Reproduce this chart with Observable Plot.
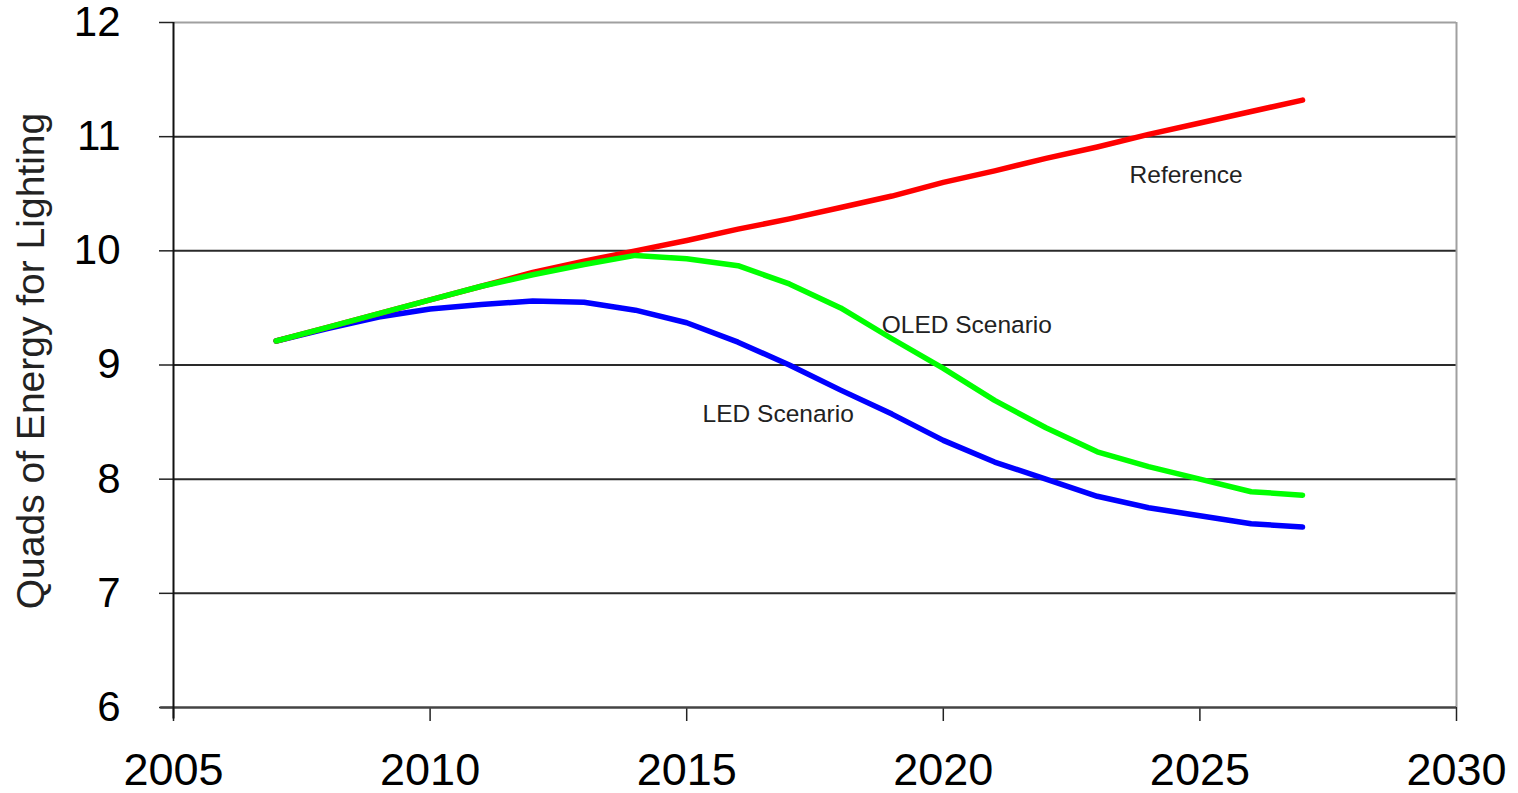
<!DOCTYPE html>
<html>
<head>
<meta charset="utf-8">
<script src="https://cdn.jsdelivr.net/npm/d3@7"></script>
<script src="https://cdn.jsdelivr.net/npm/@observablehq/plot@0.6"></script>
<style>
  html, body { margin: 0; padding: 0; background: #fff; }
  svg { display: block; overflow: visible; }
</style>
</head>
<body>
<div id="chart"></div>
<script>
const years = [2007, 2008, 2009, 2010, 2011, 2012, 2013, 2014, 2015, 2016, 2017, 2018, 2019, 2020, 2021, 2022, 2023, 2024, 2025, 2026, 2027];
const reference = [9.21, 9.33, 9.45, 9.57, 9.69, 9.81, 9.91, 10.00, 10.09, 10.19, 10.28, 10.38, 10.48, 10.60, 10.70, 10.81, 10.91, 11.02, 11.12, 11.22, 11.32];
const oled = [9.21, 9.33, 9.45, 9.57, 9.69, 9.79, 9.88, 9.96, 9.93, 9.87, 9.71, 9.50, 9.23, 8.97, 8.69, 8.45, 8.24, 8.11, 8.00, 7.89, 7.86];
const led = [9.21, 9.32, 9.42, 9.49, 9.53, 9.56, 9.55, 9.48, 9.37, 9.20, 9.00, 8.78, 8.57, 8.34, 8.15, 8.00, 7.85, 7.75, 7.68, 7.61, 7.58];

const xTicks = [2005, 2010, 2015, 2020, 2025, 2030];
const yTicks = [6, 7, 8, 9, 10, 11, 12];
const yTitle = "Quads of Energy for Lighting";

const seriesNames = ["LED Scenario", "Reference", "OLED Scenario"];
const seriesColors = ["#0000ff", "#ff0000", "#00ff00"];
const seriesValues = [led, reference, oled];

// label anchors (year, value) for in-chart annotations
const labelNames = ["Reference", "OLED Scenario", "LED Scenario"];
const labelX = [2023.63, 2018.8, 2015.31];
const labelY = [10.59, 9.28, 8.50];

const rows = [];
seriesNames.forEach((name, i) => {
  years.forEach((yr, j) => rows.push({series: name, year: yr, value: seriesValues[i][j]}));
});
const labels = labelNames.map((t, i) => ({text: t, x: labelX[i], y: labelY[i]}));

const chart = Plot.plot({
  width: 1518,
  height: 793,
  marginLeft: 173,
  marginRight: 62,
  marginTop: 22,
  marginBottom: 86,
  style: {fontFamily: "'Liberation Sans', Arial, sans-serif", background: "#fff", color: "#000", overflow: "visible"},
  x: {domain: [2005, 2030]},
  y: {domain: [6, 12]},
  color: {domain: seriesNames, range: seriesColors},
  marks: [
    Plot.ruleY(yTicks.filter(d => d > 6 && d < 12), {stroke: "#2a2a2a", strokeWidth: 2}),
    Plot.ruleY([12], {stroke: "#a0a0a0", strokeWidth: 2}),
    Plot.ruleX([2030], {stroke: "#a0a0a0", strokeWidth: 2}),
    Plot.axisY({ticks: yTicks, tickSize: 14, tickPadding: 39, fontSize: 42, tickFormat: d => String(d), label: null, stroke: "#222", strokeWidth: 1.5}),
    Plot.axisX({ticks: xTicks, tickSize: 14, tickPadding: 32, fontSize: 45, tickFormat: d => String(d), label: null, stroke: "#222", strokeWidth: 1.5}),
    Plot.ruleY([6], {x1: 2004.75, x2: 2030, stroke: "#444", strokeWidth: 2.5, clip: false}),
    Plot.ruleX([2005], {y1: 5.9, y2: 12, stroke: "#111", strokeWidth: 2}),
    Plot.line(rows, {x: "year", y: "value", z: "series", stroke: "series", strokeWidth: 5.5, strokeLinejoin: "round", strokeLinecap: "round"}),
    Plot.text(labels, {x: "x", y: "y", text: "text", textAnchor: "start", lineAnchor: "bottom", fontSize: 24.5, fill: "#222"}),
    Plot.text([yTitle], {frameAnchor: "left", rotate: -90, dx: -130, dy: -4, lineAnchor: "bottom", textAnchor: "middle", fontSize: 39, fill: "#222"})
  ]
});
document.getElementById("chart").appendChild(chart);
</script>
</body>
</html>
